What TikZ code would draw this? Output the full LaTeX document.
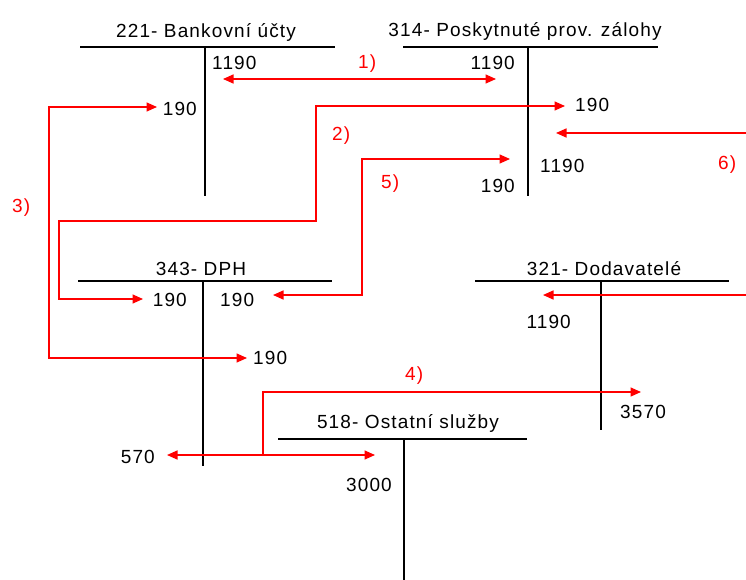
\documentclass[tikz,border=0pt]{standalone}
\usepackage{fontspec}
\setmainfont{Liberation Sans}[LetterSpace=6]
\usetikzlibrary{arrows.meta}
\begin{document}
\begin{tikzpicture}[x=1pt,y=-1pt,
  lbl/.style={font=\fontsize{19}{22}\selectfont, inner sep=0pt, text=black},
  redlbl/.style={lbl, text=red},
  tline/.style={line width=1.6pt, black},
  flowone/.style={line width=1.5pt, red, -{Triangle[length=10.5pt,width=9pt]}},
  flowtwo/.style={line width=1.5pt, red, {Triangle[length=10.5pt,width=9pt]}-{Triangle[length=10.5pt,width=9pt]}}]
\useasboundingbox (0,0) rectangle (746,580);
\fill[white] (0,0) rectangle (746,580);

% T-accounts
\draw[tline] (80,47) -- (335,47) (205,47) -- (205,196);
\draw[tline] (403,47) -- (658,47) (528,47) -- (528,196);
\draw[tline] (78,281) -- (332,281) (203,281) -- (203,466);
\draw[tline] (475,281) -- (729,281) (601,281) -- (601,430);
\draw[tline] (278,439) -- (527,439) (404,439) -- (404,580);

% titles
\node[lbl, anchor=base] (t221) at (206,38) {221- Bankovní účty};
\node[lbl, anchor=base] (t314) at (525,37) {314- Poskytnuté prov. zálohy};
\node[lbl, anchor=base] (t343) at (201,275) {343- DPH};
\node[lbl, anchor=base] (t321) at (604,275) {321- Dodavatelé};
\node[lbl, anchor=base] (t518) at (408,428) {518- Ostatní služby};

% amounts
\node[lbl, anchor=base west] (b1190) at (212,70) {1190};
\node[lbl, anchor=base east] (b190) at (197,116) {190};
\node[lbl, anchor=base east] (p1190a) at (515,70) {1190};
\node[lbl, anchor=base west] (p190a) at (575,112) {190};
\node[lbl, anchor=base west] (p1190b) at (540,172) {1190};
\node[lbl, anchor=base east] (p190b) at (515,193) {190};
\node[lbl, anchor=base east] (d190a) at (187,306) {190};
\node[lbl, anchor=base west] (d190b) at (220,306) {190};
\node[lbl, anchor=base west] (d190c) at (253,364) {190};
\node[lbl, anchor=base east] (d570) at (155,463) {570};
\node[lbl, anchor=base east] (o3000) at (392,491) {3000};
\node[lbl, anchor=base east] (s1190) at (571,328) {1190};
\node[lbl, anchor=base west] (s3570) at (620,418) {3570};

% step labels
\node[redlbl, anchor=base west] (l1) at (358,69) {1)};
\node[redlbl, anchor=base west] (l2) at (332,141) {2)};
\node[redlbl, anchor=base west] (l3) at (12,212) {3)};
\node[redlbl, anchor=base west] (l4) at (405,380) {4)};
\node[redlbl, anchor=base west] (l5) at (381,188) {5)};
\node[redlbl, anchor=base west] (l6) at (718,169) {6)};

% connector end points
\coordinate (a1a) at (223,79);
\coordinate (a1b) at (496,79);
\coordinate (a2a) at (565,106);
\coordinate (a2b) at (143,299);
\coordinate (a3a) at (157,107);
\coordinate (a3b) at (247,358);
\coordinate (a4a) at (167,455);
\coordinate (a4b) at (375,455);
\coordinate (a4j) at (263,455);
\coordinate (a4c) at (641,392);
\coordinate (a5a) at (510,159);
\coordinate (a5b) at (273,295);
\coordinate (a6s) at (746,133);
\coordinate (a6e) at (556,133);
\coordinate (a7s) at (746,295);
\coordinate (a7e) at (543,295);

% connectors
\draw[flowtwo] (a1a) -- (a1b);
\draw[flowtwo] (a2a) -- (316,106) -- (316,221) -- (59,221) -- (59,299) -- (a2b);
\draw[flowtwo] (a3a) -- (49,107) -- (49,358) -- (a3b);
\draw[flowtwo] (a4a) -- (a4b);
\draw[flowone] (a4j) -- (263,392) -- (a4c);
\draw[flowtwo] (a5a) -- (362,159) -- (362,295) -- (a5b);
\draw[flowone] (a6s) -- (a6e);
\draw[flowone] (a7s) -- (a7e);
\end{tikzpicture}
\end{document}
